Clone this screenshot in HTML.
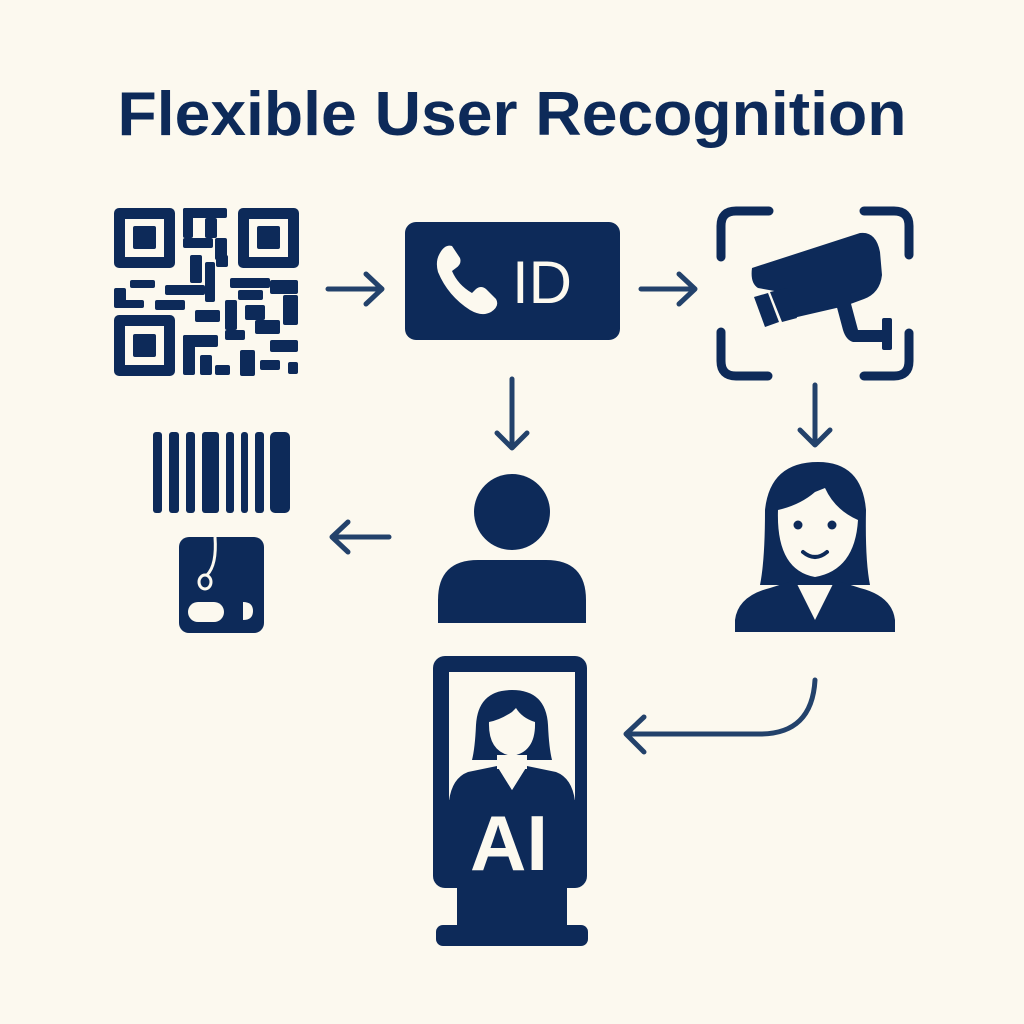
<!DOCTYPE html>
<html><head><meta charset="utf-8"><style>html,body{margin:0;padding:0;background:#fcf9ef}svg{display:block}</style></head>
<body>
<svg width="1024" height="1024" viewBox="0 0 1024 1024" xmlns="http://www.w3.org/2000/svg">
<rect width="1024" height="1024" fill="#fcf9ef"/>
<text x="512" y="135" text-anchor="middle" font-family="Liberation Sans, sans-serif" font-weight="bold" font-size="62" fill="#0d2a59" textLength="789" lengthAdjust="spacingAndGlyphs">Flexible User Recognition</text>

<g fill="#0d2a59">
<rect x="114" y="208" width="61" height="60" rx="5"/><rect x="125" y="219" width="39" height="38" fill="#fcf9ef"/><rect x="133" y="226" width="23" height="23" rx="2"/>
<rect x="238" y="208" width="61" height="60" rx="5"/><rect x="249" y="219" width="39" height="38" fill="#fcf9ef"/><rect x="257" y="226" width="23" height="23" rx="2"/>
<rect x="114" y="315" width="61" height="61" rx="5"/><rect x="125" y="326" width="39" height="39" fill="#fcf9ef"/><rect x="133" y="334" width="23" height="23" rx="2"/>
<rect x="183" y="208" width="44" height="10" rx="2"/><rect x="183" y="208" width="10" height="30" rx="2"/><rect x="205" y="218" width="12" height="20" rx="2"/>
<rect x="183" y="238" width="30" height="10" rx="2"/><rect x="215" y="238" width="12" height="22" rx="2"/><rect x="190" y="255" width="12" height="28" rx="2"/>
<rect x="205" y="262" width="10" height="40" rx="2"/><rect x="216" y="255" width="12" height="12" rx="2"/>
<rect x="114" y="288" width="12" height="18" rx="2"/><rect x="114" y="300" width="30" height="8" rx="2"/><rect x="130" y="280" width="25" height="8" rx="2"/>
<rect x="155" y="300" width="30" height="10" rx="2"/><rect x="165" y="285" width="40" height="10" rx="2"/>
<rect x="230" y="278" width="40" height="10" rx="2"/><rect x="270" y="280" width="28" height="14" rx="2"/><rect x="238" y="290" width="25" height="10" rx="2"/>
<rect x="283" y="295" width="15" height="30" rx="2"/><rect x="225" y="300" width="12" height="30" rx="2"/><rect x="245" y="305" width="20" height="15" rx="2"/>
<rect x="255" y="320" width="25" height="14" rx="2"/><rect x="225" y="330" width="20" height="10" rx="2"/><rect x="270" y="340" width="28" height="12" rx="2"/>
<rect x="240" y="350" width="15" height="26" rx="2"/><rect x="260" y="360" width="20" height="10" rx="2"/><rect x="288" y="362" width="10" height="12" rx="2"/>
<rect x="183" y="335" width="35" height="12" rx="2"/><rect x="183" y="335" width="12" height="40" rx="2"/><rect x="200" y="355" width="12" height="20" rx="2"/><rect x="215" y="365" width="15" height="10" rx="2"/>
<rect x="195" y="310" width="25" height="12" rx="2"/>
<rect x="405" y="222" width="215" height="118" rx="11"/>
</g>
<path d="M440,253 Q445,244 452,246 L460,258 Q462,264 456,268 L452,271 Q458,285 472,293 L476,289 Q481,285 486,289 L496,299 Q500,306 491,312 Q482,317 470,310 Q448,296 438,272 Q435,261 440,253 Z" fill="#fcf9ef"/>
<text x="512" y="303" font-family="Liberation Sans, sans-serif" font-size="60" fill="#fcf9ef">ID</text>

<g stroke="#23426b" stroke-width="5" fill="none" stroke-linecap="round" stroke-linejoin="round">
<path d="M328,289 H381 M366,274 L382,289 L366,304"/>
<path d="M641,289 H694 M679,274 L695,289 L679,304"/>
<path d="M512,379 V448 M497,433 L512,448 L527,433"/>
<path d="M815,385 V445 M800,430 L815,445 L830,430"/>
<path d="M389,537 H333 M348,522 L332,537 L348,552"/>
<path d="M815,680 Q812,734 760,734 H627 M644,717 L626,734 L644,752"/>
</g>

<g stroke="#0d2a59" stroke-width="9" fill="none" stroke-linecap="round">
<path d="M721,257 V226 Q721,211 736,211 H769"/>
<path d="M864,211 H894 Q909,211 909,226 V255"/>
<path d="M721,332 V361 Q721,376 736,376 H768"/>
<path d="M864,376 H894 Q909,376 909,361 V333"/>
</g>
<g fill="#0d2a59">
<path d="M752,268 L860,233 Q876,231 880,252 L882,275 Q880,293 864,299 L845,306 L793,318 Q788,300 780,292 L758,288 Q750,283 752,268 Z"/>
<path d="M754,297 L768,293 L779,322 L765,327 Z"/>
<path d="M770,292 L787,288 L797,318 L782,322 Z"/>
<path d="M835,300 L850,300 L858,330 L885,330 L885,342 L853,342 Q846,340 843,330 Z"/>
<rect x="882" y="318" width="10" height="32" rx="2"/>

<rect x="153" y="432" width="9" height="81" rx="3"/><rect x="169" y="432" width="10" height="81" rx="3"/><rect x="186" y="432" width="9" height="81" rx="3"/>
<rect x="202" y="432" width="17" height="81" rx="3"/><rect x="226" y="432" width="8" height="81" rx="3"/><rect x="241" y="432" width="7" height="81" rx="3"/>
<rect x="255" y="432" width="9" height="81" rx="3"/><rect x="270" y="432" width="20" height="81" rx="5"/>
<rect x="179" y="537" width="85" height="96" rx="10"/>
</g>
<path d="M215,537 Q217,565 207,575" stroke="#fcf9ef" stroke-width="3" fill="none"/>
<ellipse cx="205" cy="582" rx="6" ry="7" stroke="#fcf9ef" stroke-width="3" fill="none"/>
<rect x="188" y="602" width="36" height="20" rx="10" fill="#fcf9ef"/>
<path d="M243,602 Q253,602 253,611 Q253,620 243,620 Z" fill="#fcf9ef"/>

<g fill="#0d2a59">
<circle cx="512" cy="512" r="38"/>
<path d="M438,623 V600 Q438,560 478,560 H546 Q586,560 586,600 V623 Z"/>
</g>

<g>
<path d="M818,462 Q770,462 765,510 Q765,560 760,585 L870,585 Q865,560 866,510 Q862,462 818,462 Z" fill="#0d2a59"/>
<path d="M815,492 Q800,505 778,510 Q776,570 815,577 Q855,570 858,520 Q835,510 825,488 Z" fill="#fcf9ef"/>
<circle cx="798" cy="525" r="4.5" fill="#0d2a59"/><circle cx="832" cy="525" r="4.5" fill="#0d2a59"/>
<path d="M803,552 Q815,562 827,552" stroke="#0d2a59" stroke-width="4" fill="none" stroke-linecap="round"/>
<path d="M735,632 V620 Q738,596 770,588 L795,580 L815,620 L835,580 L860,588 Q892,596 895,620 V632 Z" fill="#0d2a59"/>
</g>

<g fill="#0d2a59">
<rect x="433" y="656" width="154" height="232" rx="12"/>
<rect x="457" y="880" width="110" height="52"/>
<rect x="436" y="925" width="152" height="21" rx="7"/>
</g>
<rect x="449" y="672" width="126" height="128" fill="#fcf9ef"/>
<path d="M512,690 Q478,690 476,725 Q475,748 472,760 L552,760 Q549,748 548,725 Q546,690 512,690 Z" fill="#0d2a59"/>
<path d="M512,712 Q500,720 489,722 Q488,752 512,756 Q536,752 535,722 Q522,718 516,708 Z" fill="#fcf9ef"/>
<path d="M449,801 Q452,778 468,772 L497,766 L512,790 L527,766 L556,772 Q572,778 575,801 Z" fill="#0d2a59"/>
<rect x="497" y="755" width="30" height="14" fill="#fcf9ef"/>
<path d="M497,766 L512,790 L527,766 Z" fill="#fcf9ef"/>
<text x="509" y="870" text-anchor="middle" font-family="Liberation Sans, sans-serif" font-weight="bold" font-size="78" fill="#fcf9ef">AI</text>
</svg>
</body></html>
